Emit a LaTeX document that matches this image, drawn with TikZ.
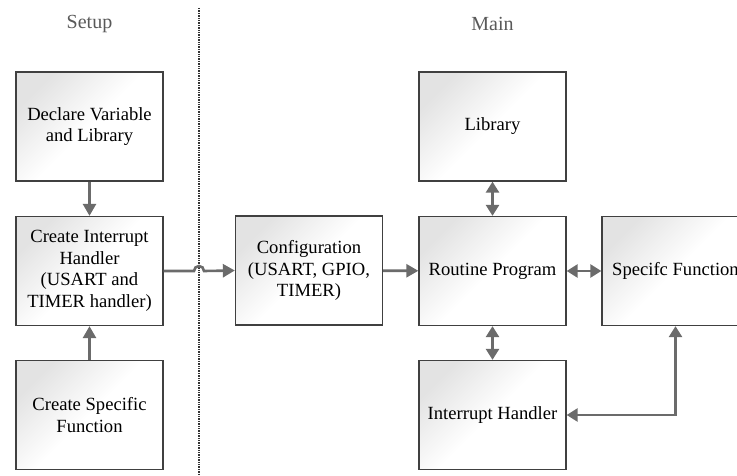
\documentclass[tikz,border=0pt]{standalone}
\usepackage{fontspec}
\setmainfont{Liberation Serif}
\usetikzlibrary{arrows.meta}

\tikzset{
  blk/.style={draw=black!75, line width=1.3pt, minimum width=147pt, minimum height=109pt,
    align=center, inner sep=2pt, top color=black!11, bottom color=white, middle color=white,
    shading angle=45, font=\fontsize{18.6}{21.5}\selectfont},
  title/.style={text=black!65, font=\fontsize{20}{24}\selectfont},
  conn/.style={draw=black!58, line width=2.6pt, -{Triangle[width=13pt,length=12pt]}},
  dconn/.style={draw=black!58, line width=2.6pt, {Triangle[width=13pt,length=11pt]}-{Triangle[width=13pt,length=11pt]}}
}

\begin{document}
\begin{tikzpicture}[x=1pt,y=1pt]
\useasboundingbox (0,0) rectangle (737,-476);
%headings and divider
\node[title] (setup) at (89.5,-24) {Setup};
\node[title] (main) at (492.5,-24) {Main};
\coordinate (divtop) at (199,-8);
\coordinate (divbot) at (199,-476);
\draw[black!80, line width=1.4pt, densely dotted] (divtop) -- (divbot);
%setup blocks
\node[blk] (decl) at (89.5,-126.5) {Declare Variable\\and Library};
\node[blk] (cih) at (89.5,-271) {Create Interrupt\\Handler\\(USART and\\TIMER handler)};
\node[blk] (csf) at (89.5,-415) {Create Specific\\Function};
%main blocks
\node[blk] (conf) at (309,-270.5) {Configuration\\(USART, GPIO,\\TIMER)};
\node[blk] (lib) at (492.5,-126.5) {Library};
\node[blk] (rout) at (492.5,-271) {Routine Program};
\node[blk] (spec) at (675.5,-271) {Specifc Function};
\node[blk] (ih) at (492.5,-415) {Interrupt Handler};
%arrows
\draw[conn] (decl) -- (cih);
\draw[conn] (csf) -- (cih);
\coordinate (hop) at (199,-271);
\draw[conn] (cih.east) -- ([xshift=-5pt]hop) arc[start angle=180,end angle=0,radius=5pt] -- (conf.west);
\draw[conn] (conf) -- (rout);
\draw[dconn] (lib) -- (rout);
\draw[dconn] (rout) -- (ih);
\draw[dconn] (rout) -- (spec);
\draw[dconn] (ih.east) -| (spec.south);
\end{tikzpicture}
\end{document}
